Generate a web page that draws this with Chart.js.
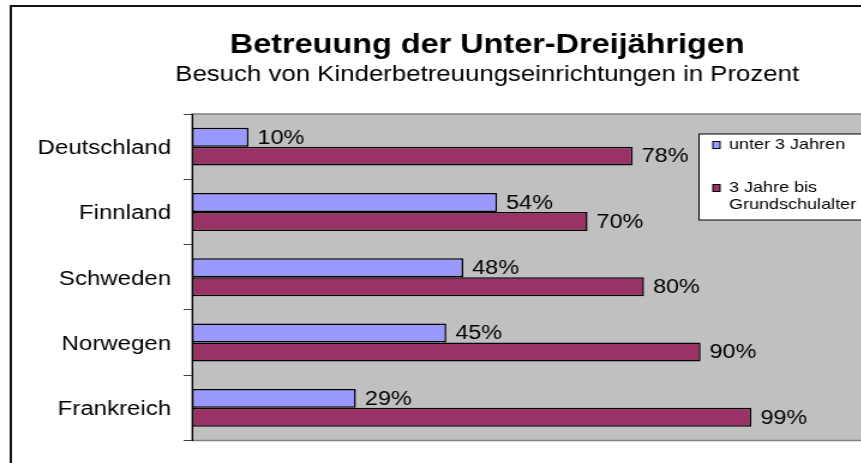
<!DOCTYPE html>
<html>
<head>
<meta charset="utf-8">
<script src="https://cdn.jsdelivr.net/npm/chart.js@4/dist/chart.umd.min.js"></script>
<style>
    html, body { margin: 0; padding: 0; background: #ffffff; }
    #wrap { width: 861px; height: 463px; overflow: hidden; position: relative; }
</style>
</head>
<body>
<!-- the original picture is stretched sideways, so the canvas is too (730 -> 876 px) -->
<div id="wrap"><canvas id="chart" width="730" height="463" style="width:876px;height:463px;display:block"></canvas></div>
<script>
const titleText = 'Betreuung der Unter-Dreijährigen';
const subtitleText = 'Besuch von Kinderbetreuungseinrichtungen in Prozent';
const countries = ['Deutschland', 'Finnland', 'Schweden', 'Norwegen', 'Frankreich'];
const under3 = [10, 54, 48, 45, 29];
const age3ToSchool = [78, 70, 80, 90, 99];
const seriesNames = [['unter 3 Jahren'], ['3 Jahre bis', 'Grundschulalter']];
const seriesColors = ['#9999ff', '#993366'];

const FONT = "'Liberation Sans', Arial, sans-serif";

// frame, titles and grey plot background
const backdrop = {
    id: 'backdrop',
    beforeDraw(chart) {
        const ctx = chart.ctx;
        const a = chart.chartArea;
        ctx.save();
        ctx.fillStyle = '#ffffff';
        ctx.fillRect(0, 0, chart.width, chart.height);
        ctx.fillStyle = '#c0c0c0';
        ctx.fillRect(a.left, a.top, a.right - a.left + 20, a.bottom - a.top);
        ctx.strokeStyle = '#808080';
        ctx.lineWidth = 1.5;
        ctx.strokeRect(a.left, a.top, a.right - a.left + 20, a.bottom - a.top);
        ctx.strokeStyle = '#111111';
        ctx.lineWidth = 2;
        ctx.strokeRect(9, 6, chart.width + 20, chart.height + 20);

        ctx.fillStyle = '#000000';
        ctx.textAlign = 'center';
        ctx.textBaseline = 'alphabetic';
        ctx.font = 'bold 27px ' + FONT;
        ctx.fillText(titleText, 406, 53);
        ctx.font = '21.5px ' + FONT;
        ctx.fillText(subtitleText, 406, 81);
        ctx.restore();
    }
};

// value labels next to the bars and the boxed legend
const extras = {
    id: 'extras',
    afterDatasetsDraw(chart) {
        const ctx = chart.ctx;
        ctx.save();
        ctx.fillStyle = '#000000';
        ctx.font = '19.5px ' + FONT;
        ctx.textAlign = 'left';
        ctx.textBaseline = 'middle';
        chart.data.datasets.forEach(function(ds, i) {
            chart.getDatasetMeta(i).data.forEach(function(bar, j) {
                ctx.fillText(ds.data[j] + '%', bar.x + 7.5, bar.y + 1);
            });
        });

        // legend box
        const lx = 582.5, ly = 134, lh = 86;
        ctx.fillStyle = '#ffffff';
        ctx.fillRect(lx, ly, chart.width, lh);
        ctx.strokeStyle = '#000000';
        ctx.lineWidth = 1;
        ctx.strokeRect(lx, ly, chart.width, lh);
        const rowY = [145, 188];
        ctx.font = '15px ' + FONT;
        seriesNames.forEach(function(lines, i) {
            ctx.fillStyle = seriesColors[i];
            ctx.fillRect(594, rowY[i] - 3.5, 6, 7);
            ctx.strokeStyle = '#000000';
            ctx.strokeRect(594, rowY[i] - 3.5, 6, 7);
            ctx.fillStyle = '#000000';
            lines.forEach(function(line, k) {
                ctx.fillText(line, 607.5, rowY[i] + k * 17);
            });
        });
        ctx.restore();
    }
};

const ctx = document.getElementById('chart').getContext('2d');
const chart = new Chart(ctx, {
    type: 'bar',
    data: {
        labels: countries,
        datasets: [
            {
                label: seriesNames[0].join(' '),
                data: under3,
                backgroundColor: seriesColors[0],
                borderColor: '#000000',
                borderWidth: 1.5,
                borderSkipped: false
            },
            {
                label: seriesNames[1].join(' '),
                data: age3ToSchool,
                backgroundColor: seriesColors[1],
                borderColor: '#000000',
                borderWidth: 1.5,
                borderSkipped: false
            }
        ]
    },
    options: {
        indexAxis: 'y',
        responsive: false,
        animation: false,
        devicePixelRatio: 1,
        categoryPercentage: 0.58,
        barPercentage: 1.0,
        layout: {
            padding: { left: 0, right: 5, top: 114, bottom: 11 }
        },
        plugins: {
            legend: { display: false },
            tooltip: { enabled: false },
            title: { display: false }
        },
        scales: {
            x: {
                display: false,
                min: 0,
                max: 120
            },
            y: {
                afterFit: function(scale) {
                    scale.width = 160;
                },
                border: { display: true, color: '#000000', width: 1 },
                grid: {
                    display: true,
                    drawOnChartArea: false,
                    drawTicks: true,
                    tickLength: 7,
                    color: '#404040',
                    offset: true
                },
                ticks: {
                    color: '#000000',
                    padding: 10.5,
                    labelOffset: 2,
                    font: { family: FONT, size: 20 }
                }
            }
        }
    },
    plugins: [backdrop, extras]
});
</script>
</body>
</html>
